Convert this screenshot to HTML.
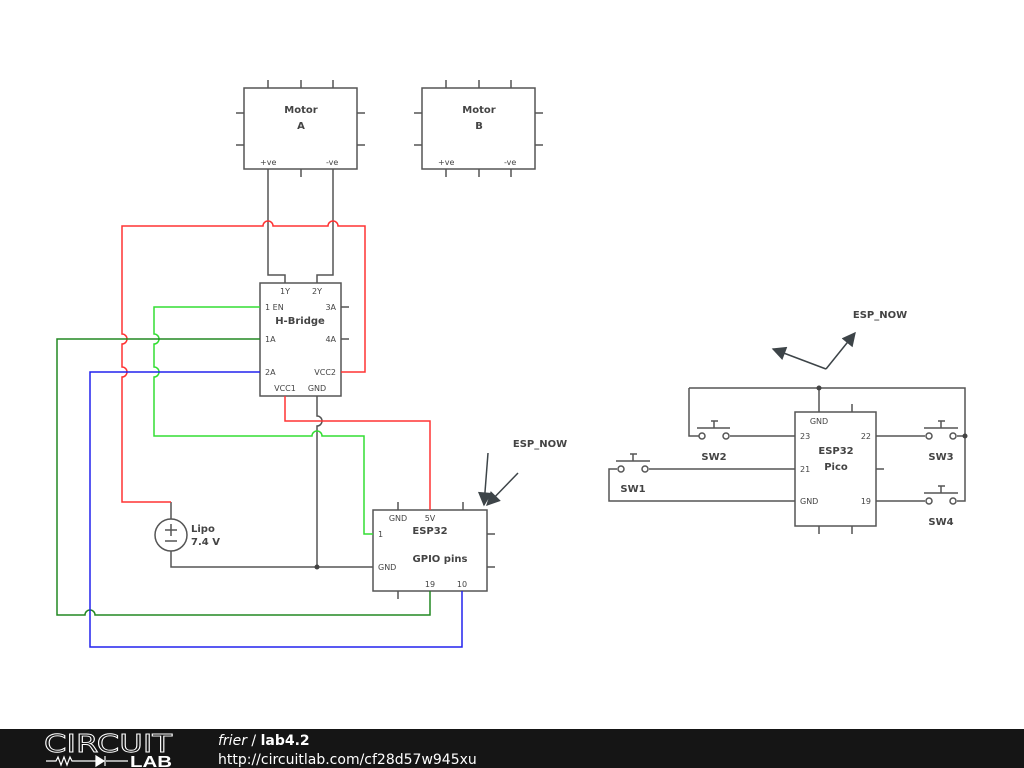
<!DOCTYPE html>
<html><head><meta charset="utf-8"><style>
html,body{margin:0;padding:0;background:#fff;width:1024px;height:768px;overflow:hidden}
svg{display:block}
text{font-family:"DejaVu Sans","Liberation Sans",sans-serif;fill:#444}
.l{font-size:8px}
.b{font-size:10px;font-weight:bold}
</style></head><body>
<svg width="1024" height="768" viewBox="0 0 1024 768" xmlns="http://www.w3.org/2000/svg">
<defs>
<marker id="ah" viewBox="0 0 10 10" refX="9" refY="5" markerWidth="16" markerHeight="14" markerUnits="userSpaceOnUse" orient="auto"><path d="M0,0 L10,5 L0,10 z" fill="#3d4448"/></marker>
</defs>
<g fill="none" stroke="#555" stroke-width="1.5">
<rect x="244" y="88" width="113" height="81"/>
<path d="M268 80V88M301 80V88M333 80V88M236 113H244M236 145H244M357 113H365M357 145H365M301 169V177"/>
<rect x="422" y="88" width="113" height="81"/>
<path d="M446 80V88M479 80V88M511 80V88M414 113H422M414 145H422M535 113H543M535 145H543M446 169V177M479 169V177M511 169V177"/>
<path d="M268 169V275H285V283M333 169V275H317V283"/>
<rect x="260" y="283" width="81" height="113"/>
<path d="M341 307H349M341 339H349"/>
<path d="M317 396V416A5 5 0 0 1 317 426V567"/>
<rect x="373" y="510" width="114" height="81"/>
<path d="M398 502V510M463 502V510M398 591V599M487 534H495M487 567H495"/>
<circle cx="171" cy="535" r="16"/>
<path d="M171 519V502M171 551V567H373M165 530H177M171 524V536M165 541H177"/>
<rect x="795" y="412" width="81" height="114"/>
<path d="M852 404V412M819 526V534M852 526V534M876 469H884"/>
<path d="M819 412V388M689 388H965V501H957M689 388V436H699M730 436H795M649 469H795M617 469H609V501H795M876 436H925M876 501H925M957 436H965"/>
<path d="M697 428H730M714 428V421M711 421H718M616 461H650M633 461V454M630 454H637M924 428H958M941 428V421M938 421H945M924 493H958M941 493V486M938 486H945"/>
</g>
<g fill="#fff" stroke="#555" stroke-width="1.5">
<circle cx="702" cy="436" r="3"/><circle cx="726" cy="436" r="3"/>
<circle cx="621" cy="469" r="3"/><circle cx="645" cy="469" r="3"/>
<circle cx="929" cy="436" r="3"/><circle cx="953" cy="436" r="3"/>
<circle cx="929" cy="501" r="3"/><circle cx="953" cy="501" r="3"/>
</g>
<g fill="#444"><circle cx="317" cy="567" r="2.5"/><circle cx="819" cy="388" r="2.5"/><circle cx="965" cy="436" r="2.5"/></g>
<g fill="none" stroke="#ff3333" stroke-width="1.5">
<path d="M171 502H122V377A5 5 0 0 0 122 367V344A5 5 0 0 0 122 334V226H263A5 5 0 0 1 273 226H328A5 5 0 0 1 338 226H365V372H341"/>
<path d="M285 396V421H430V510"/>
</g>
<g fill="none" stroke="#33dd33" stroke-width="1.5">
<path d="M260 307H154V334A5 5 0 0 1 154 344V367A5 5 0 0 1 154 377V436H312A5 5 0 0 1 322 436H364V534H373"/>
</g>
<g fill="none" stroke="#228822" stroke-width="1.5">
<path d="M260 339H57V615H85A5 5 0 0 1 95 615H430V591"/>
</g>
<g fill="none" stroke="#2222ee" stroke-width="1.5">
<path d="M260 372H90V647H462V591"/>
</g>
<g stroke="#3d4448" stroke-width="1.5" fill="none">
<path d="M488 453L484 505" marker-end="url(#ah)"/>
<path d="M518 473L487 505" marker-end="url(#ah)"/>
<path d="M826 369L773 349" marker-end="url(#ah)"/>
<path d="M826 369L855 333" marker-end="url(#ah)"/>
</g>
<text class="b" x="301" y="113" text-anchor="middle">Motor</text>
<text class="b" x="301" y="129" text-anchor="middle">A</text>
<text class="l" x="260" y="165">+ve</text><text class="l" x="326" y="165">-ve</text>
<text class="b" x="479" y="113" text-anchor="middle">Motor</text>
<text class="b" x="479" y="129" text-anchor="middle">B</text>
<text class="l" x="438" y="165">+ve</text><text class="l" x="504" y="165">-ve</text>
<text class="l" x="285" y="294" text-anchor="middle">1Y</text>
<text class="l" x="317" y="294" text-anchor="middle">2Y</text>
<text class="l" x="265" y="310">1 EN</text>
<text class="l" x="265" y="342">1A</text>
<text class="l" x="265" y="375">2A</text>
<text class="l" x="336" y="310" text-anchor="end">3A</text>
<text class="l" x="336" y="342" text-anchor="end">4A</text>
<text class="l" x="336" y="375" text-anchor="end">VCC2</text>
<text class="l" x="285" y="391" text-anchor="middle">VCC1</text>
<text class="l" x="317" y="391" text-anchor="middle">GND</text>
<text class="b" x="300" y="324" text-anchor="middle">H-Bridge</text>
<text class="b" x="191" y="532">Lipo</text>
<text class="b" x="191" y="545">7.4 V</text>
<text class="l" x="398" y="521" text-anchor="middle">GND</text>
<text class="l" x="430" y="521" text-anchor="middle">5V</text>
<text class="l" x="378" y="537">1</text>
<text class="l" x="378" y="570">GND</text>
<text class="l" x="430" y="587" text-anchor="middle">19</text>
<text class="l" x="462" y="587" text-anchor="middle">10</text>
<text class="b" x="430" y="534" text-anchor="middle">ESP32</text>
<text class="b" x="440" y="562" text-anchor="middle">GPIO pins</text>
<text class="b" x="540" y="447" text-anchor="middle">ESP_NOW</text>
<text class="b" x="880" y="318" text-anchor="middle">ESP_NOW</text>
<text class="l" x="819" y="424" text-anchor="middle">GND</text>
<text class="l" x="800" y="439">23</text>
<text class="l" x="800" y="472">21</text>
<text class="l" x="800" y="504">GND</text>
<text class="l" x="871" y="439" text-anchor="end">22</text>
<text class="l" x="871" y="504" text-anchor="end">19</text>
<text class="b" x="836" y="454" text-anchor="middle">ESP32</text>
<text class="b" x="836" y="470" text-anchor="middle">Pico</text>
<text class="b" x="714" y="460" text-anchor="middle">SW2</text>
<text class="b" x="633" y="492" text-anchor="middle">SW1</text>
<text class="b" x="941" y="460" text-anchor="middle">SW3</text>
<text class="b" x="941" y="525" text-anchor="middle">SW4</text>
<rect x="0" y="729" width="1024" height="39" fill="#151515"/>
<text x="44" y="752" textLength="128" lengthAdjust="spacingAndGlyphs" style="font-family:'DejaVu Sans',sans-serif;font-size:25px;fill:none;stroke:#fff;stroke-width:0.9">CIRCUIT</text>
<path d="M46 761H56L58 757L61 765L64 757L67 765L70 757L72 761H96M106 761H128" stroke="#fff" stroke-width="1.2" fill="none"/>
<path d="M96 756L104 761L96 766Z M105 756V766" fill="#fff" stroke="#fff" stroke-width="1.2"/>
<text x="130" y="767" textLength="42" lengthAdjust="spacingAndGlyphs" style="font-family:'Liberation Sans',sans-serif;font-size:16px;font-weight:bold;fill:#fff">LAB</text>
<text x="218" y="745" style="font-family:'DejaVu Sans',sans-serif;font-size:14px;fill:#fff"><tspan font-style="italic">frier</tspan> / <tspan font-weight="bold">lab4.2</tspan></text>
<text x="218" y="764" style="font-family:'DejaVu Sans',sans-serif;font-size:14px;fill:#fff">http://circuitlab.com/cf28d57w945xu</text>
</svg>
</body></html>
